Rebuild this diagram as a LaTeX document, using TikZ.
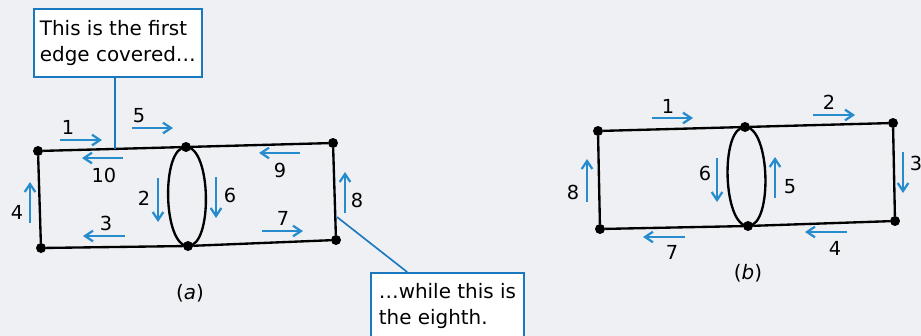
\documentclass[tikz,border=0pt]{standalone}
\usepackage{fontspec}
\setmainfont{DejaVu Sans}
\usetikzlibrary{arrows.meta, calc}
\definecolor{pagebg}{RGB}{238,240,244}
\definecolor{flowblue}{RGB}{38,140,205}
\definecolor{noteblue}{RGB}{25,120,190}

\begin{document}
\begin{tikzpicture}[
    x=0.03cm, y=-0.03cm,
    vertex/.style={circle, fill=black, inner sep=0pt, minimum size=0.3cm},
    edge/.style={draw=black, line width=2pt},
    flow/.style={draw=flowblue, line width=1.9pt, -{Straight Barb[length=2.4mm, width=3.2mm]}},
    num/.style={inner sep=0pt, font=\fontsize{16.5}{18}\selectfont},
    caption/.style={font=\fontsize{17}{20}\selectfont},
    note/.style={rectangle, draw=noteblue, line width=1.5pt, fill=white, align=left, anchor=north west, inner sep=0pt, font=\fontsize{17}{22.5}\selectfont},
    pointer/.style={draw=noteblue, line width=1.4pt}
]

    % --- PAGE ---
    \useasboundingbox (0,0) rectangle (921,336);
    \clip (0,0) rectangle (921,336);
    \fill[pagebg] (0,0) rectangle (921,336);

    % --- GRAPH (a) ---
    \node [vertex] (a1) at (38,151) {};
    \node [vertex] (a2) at (186,147) {};
    \node [vertex] (a3) at (333,143) {};
    \node [vertex] (a4) at (336,240) {};
    \node [vertex] (a5) at (188,246) {};
    \node [vertex] (a6) at (41,248) {};

    \draw [edge] (a1) -- (a2) -- (a3) -- (a4) -- (a5) -- (a6) -- (a1);
    \draw [edge] (a2.center) to[out=180, in=180, looseness=0.65] (a5.center);
    \draw [edge] (a2.center) to[out=0, in=0, looseness=0.65] (a5.center);

    \draw [flow] (60,140) -- (102,140);  \node [num] (la1) at (68,127) {1};
    \draw [flow] (158,178) -- (158,222); \node [num] (la2) at (144,198) {2};
    \draw [flow] (125,236) -- (83,236);  \node [num] (la3) at (106,223) {3};
    \draw [flow] (30,223) -- (30,182);   \node [num] (la4) at (17,212) {4};
    \draw [flow] (132,128) -- (173,128); \node [num] (la5) at (139,116) {5};
    \draw [flow] (216,177) -- (216,218); \node [num] (la6) at (230,195) {6};
    \draw [flow] (262,231) -- (303,231); \node [num] (la7) at (283,218) {7};
    \draw [flow] (345,213) -- (345,172); \node [num] (la8) at (357,200) {8};
    \draw [flow] (300,153) -- (259,153); \node [num] (la9) at (280,170) {9};
    \draw [flow] (123,158) -- (82,158);  \node [num] (la10) at (104,175) {10};

    \node [caption] (capa) at (190,293) {(\textit{a})};

    % --- GRAPH (b) ---
    \node [vertex] (b1) at (598,131) {};
    \node [vertex] (b2) at (745,127) {};
    \node [vertex] (b3) at (893,123) {};
    \node [vertex] (b4) at (895,221) {};
    \node [vertex] (b5) at (748,226) {};
    \node [vertex] (b6) at (600,229) {};

    \draw [edge] (b1) -- (b2) -- (b3) -- (b4) -- (b5) -- (b6) -- (b1);
    \draw [edge] (b2.center) to[out=180, in=180, looseness=0.65] (b5.center);
    \draw [edge] (b2.center) to[out=0, in=0, looseness=0.65] (b5.center);

    \draw [flow] (652,118) -- (693,118); \node [num] (lb1) at (668,106) {1};
    \draw [flow] (813,115) -- (855,115); \node [num] (lb2) at (829,102) {2};
    \draw [flow] (903,152) -- (903,193); \node [num] (lb3) at (916,163) {3};
    \draw [flow] (847,232) -- (805,232); \node [num] (lb4) at (835,248) {4};
    \draw [flow] (775,198) -- (775,157); \node [num] (lb5) at (790,187) {5};
    \draw [flow] (717,158) -- (717,202); \node [num] (lb6) at (705,173) {6};
    \draw [flow] (685,237) -- (643,237); \node [num] (lb7) at (672,252) {7};
    \draw [flow] (587,202) -- (587,159); \node [num] (lb8) at (573,192) {8};

    \node [caption] (capb) at (748,273) {(\textit{b})};

    % --- CALLOUTS ---
    \node [note, minimum width=5.04cm, minimum height=2.04cm] (note1) at (33,8) {This is the first\\edge covered\dots};
    \node [note, minimum width=4.59cm, minimum height=2.0cm] (note8) at (370,272) {\dots while this is\\the eighth.};

    \coordinate (hit1) at (115,149);
    \coordinate (hit8) at (337,217);
    \draw [pointer] (hit1) -- (hit1 |- note1.south);
    \draw [pointer] (hit8) -- ($(note8.north west)!0.24!(note8.north east)$);

\end{tikzpicture}
\end{document}
